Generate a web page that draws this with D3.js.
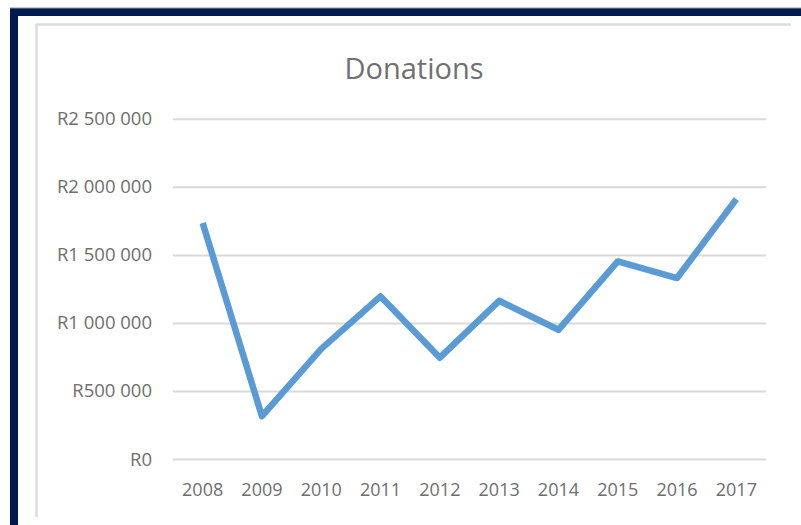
<!DOCTYPE html>
<html>
<head>
<meta charset="utf-8">
<script src="https://cdn.jsdelivr.net/npm/d3@7"></script>
<style>
  html, body { margin: 0; padding: 0; background: #fff; }
  svg { display: block; }
</style>
</head>
<body>
<svg id="chart" width="801" height="525"></svg>
<script>
const years = ["2008","2009","2010","2011","2012","2013","2014","2015","2016","2017"];
const donations = [1735000, 315000, 810000, 1195000, 745000, 1163000, 950000, 1452000, 1330000, 1910000];
const yTicks = [0, 500000, 1000000, 1500000, 2000000, 2500000];
const title = "Donations";

(function () {
const svg = d3.select("#chart");
const W = 801, H = 525;

// outer navy frame
svg.append("rect").attr("x", 10).attr("y", 8).attr("width", 8).attr("height", H - 8).attr("fill", "#001a4f");
svg.append("rect").attr("x", 10).attr("y", 8).attr("width", W - 10).attr("height", 8).attr("fill", "#001a4f");
svg.append("line").attr("x1", 10).attr("x2", W).attr("y1", 8).attr("y2", 8).attr("stroke", "#8a96aa").attr("stroke-width", 1);

// inner chart-area border (top & left)
svg.append("line").attr("x1", 36).attr("x2", 791).attr("y1", 24.5).attr("y2", 24.5).attr("stroke", "#dcdcdc").attr("stroke-width", 2.5);
svg.append("line").attr("x1", 36.5).attr("x2", 36.5).attr("y1", 24).attr("y2", 517).attr("stroke", "#dcdcdc").attr("stroke-width", 2.5);

const pL = 173, pR = 766, pT = 118.8, pB = 459.1;

const x = d3.scaleBand().domain(years).range([pL, pR]).padding(0);
const y = d3.scaleLinear().domain([0, 2500000]).range([pB, pT]);

const fmt = v => "R" + d3.format(",")(v).replace(/,/g, " ");

// gridlines
const grid = svg.append("g").attr("transform", `translate(${pL},0)`)
  .call(d3.axisLeft(y).tickValues(yTicks).tickSize(-(pR - pL)).tickFormat(""));
grid.select(".domain").remove();
grid.selectAll(".tick line").attr("stroke", "#d9d9d9").attr("stroke-width", 2);

// y axis labels
const yAxis = svg.append("g").attr("transform", `translate(152,0)`)
  .call(d3.axisLeft(y).tickValues(yTicks).tickSize(0).tickPadding(0).tickFormat(fmt));
yAxis.select(".domain").remove();
yAxis.selectAll("text")
  .attr("font-family", "'Open Sans', sans-serif")
  .attr("font-size", 18.5)
  .attr("fill", "#6e6e6e");

// x axis labels
const xAxis = svg.append("g").attr("transform", `translate(0,${pB})`)
  .call(d3.axisBottom(x).tickSize(0).tickPadding(24));
xAxis.select(".domain").remove();
xAxis.selectAll("text")
  .attr("font-family", "'Open Sans', sans-serif")
  .attr("font-size", 18)
  .attr("fill", "#6e6e6e");

// line
const line = d3.line()
  .x((d, i) => x(years[i]) + x.bandwidth() / 2)
  .y(d => y(d));
svg.append("path")
  .datum(donations)
  .attr("d", line)
  .attr("fill", "none")
  .attr("stroke", "#5b9bd5")
  .attr("stroke-width", 6.5)
  .attr("stroke-linejoin", "round")
  .attr("stroke-linecap", "butt");

// title
svg.append("text")
  .attr("x", 414).attr("y", 79)
  .attr("text-anchor", "middle")
  .attr("font-family", "'Open Sans', sans-serif")
  .attr("font-size", 29)
  .attr("fill", "#707070")
  .text(title);
})();
</script>
</body>
</html>
